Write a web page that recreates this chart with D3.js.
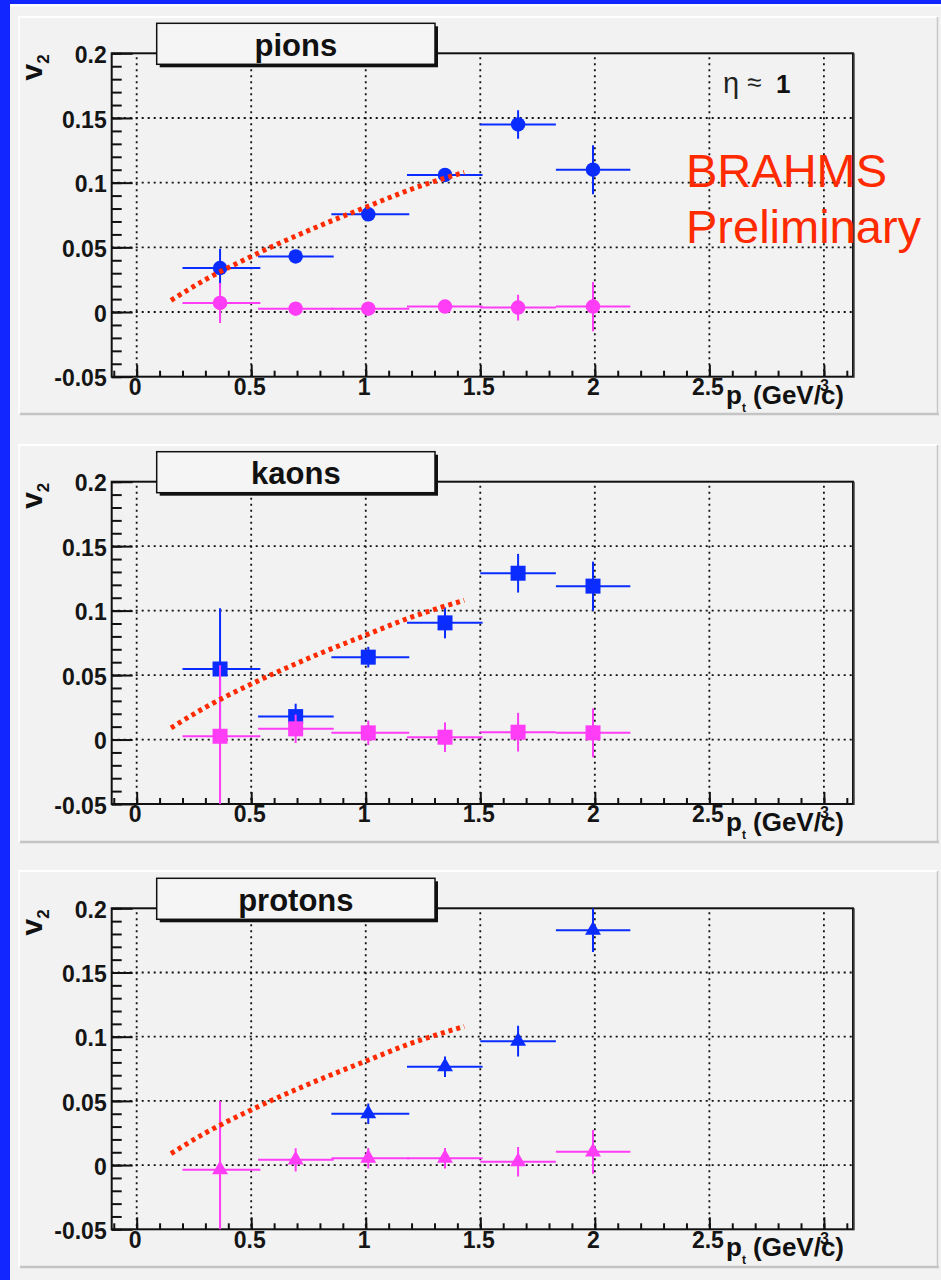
<!DOCTYPE html>
<html>
<head>
<meta charset="utf-8">
<script src="https://cdnjs.cloudflare.com/ajax/libs/d3/7.8.5/d3.min.js"></script>
<style>
  body { margin: 0; background: #1226ff; }
  svg { display: block; }
  text { font-family: "Liberation Sans", Arial, Helvetica, sans-serif; }
</style>
</head>
<body>
<div class="chart"></div>
<script>
// ------------------------------------------------------------------
// Data
var panelNames = ["pions", "kaons", "protons"];
var markerShapes = ["circle", "square", "triangle"];

var binCenter = [0.364, 0.694, 1.011, 1.346, 1.665, 1.992];
var binLo     = [0.20, 0.53, 0.85, 1.18, 1.50, 1.83];
var binHi     = [0.54, 0.86, 1.19, 1.51, 1.83, 2.155];

var pionBlue      = [0.034, 0.043, 0.0755, 0.106, 0.145, 0.110];
var pionBlueErr   = [0.015, 0.003, 0.005, 0.005, 0.011, 0.019];
var pionPink      = [0.007, 0.0026, 0.0026, 0.0042, 0.0034, 0.0042];
var pionPinkErr   = [0.0155, 0.002, 0.002, 0.004, 0.010, 0.019];

var kaonBlue      = [0.0548, 0.0178, 0.0639, 0.0905, 0.129, 0.119];
var kaonBlueErr   = [0.047, 0.010, 0.008, 0.012, 0.015, 0.019];
var kaonPink      = [0.0026, 0.0083, 0.0052, 0.0018, 0.0057, 0.0052];
var kaonPinkErr   = [0.055, 0.011, 0.0095, 0.0115, 0.015, 0.019];

var protonBlue    = [null, null, 0.040, 0.0766, 0.0965, 0.183];
var protonBlueErr = [0, 0, 0.008, 0.008, 0.012, 0.017];
var protonPink    = [-0.0036, 0.0041, 0.0054, 0.0054, 0.0026, 0.0103];
var protonPinkErr = [0.0535, 0.009, 0.008, 0.008, 0.0115, 0.017];

// hydro-like reference curve (same in all panels)
var curveP = [0.15, 0.30, 0.50, 0.75, 1.00, 1.20, 1.43];
var curveV = [0.009, 0.025, 0.043, 0.063, 0.081, 0.095, 0.108];

var yTickValues = [-0.05, 0, 0.05, 0.1, 0.15, 0.2];
var yTickLabels = ["-0.05", "0", "0.05", "0.1", "0.15", "0.2"];
var xTickValues = [0, 0.5, 1, 1.5, 2, 2.5, 3];
var xTickLabels = ["0", "0.5", "1", "1.5", "2", "2.5", "3"];

var blueSeries = [pionBlue, kaonBlue, protonBlue];
var blueErrors = [pionBlueErr, kaonBlueErr, protonBlueErr];
var pinkSeries = [pionPink, kaonPink, protonPink];
var pinkErrors = [pionPinkErr, kaonPinkErr, protonPinkErr];

// ------------------------------------------------------------------
// Layout
var W = 941, H = 1280;
var panelTop    = [17, 445, 871];
var panelBottom = [414, 842, 1267];
var frameTop    = [53.3, 481.7, 908.3];
var frameBottom = [376.7, 804, 1229.3];
var frameLeft = 111.7, frameRight = 853;

var BLUE = "#0a2cff", PINK = "#ff3cf6", RED = "#ff2a00", INK = "#111";

var svg = d3.select(".chart").append("svg")
  .attr("width", W)
  .attr("height", H);

svg.append("rect").attr("width", W).attr("height", H).attr("fill", "#1226ff");
svg.append("rect").attr("x", 10).attr("y", 4).attr("width", W - 10).attr("height", H - 4).attr("fill", "#f2f2f2");
svg.append("line").attr("x1", 10).attr("x2", W).attr("y1", 5.5).attr("y2", 5.5)
  .attr("stroke", "#fff").attr("stroke-width", 2);

var x = d3.scaleLinear().domain([-0.109, 3.127]).range([frameLeft, frameRight]);

var minorX = d3.range(-1, 32).map(function(d) { return d / 10; });
var minorY = d3.range(-5, 21).map(function(d) { return d / 100; });

var curvePts = curveP.map(function(p, i) { return [p, curveV[i]]; });

for (var k = 0; k < 3; k++) {
  drawPanel(k);
}

function drawPanel(k) {
  var ft = frameTop[k], fb = frameBottom[k];
  var y = d3.scaleLinear().domain([-0.05, 0.2]).range([fb, ft]);
  var g = svg.append("g");

  // panel bevel
  g.append("line").attr("x1", 18).attr("x2", 938).attr("y1", panelTop[k]).attr("y2", panelTop[k])
    .attr("stroke", "#fff").attr("stroke-width", 2);
  g.append("line").attr("x1", 19).attr("x2", 19).attr("y1", panelTop[k]).attr("y2", panelBottom[k])
    .attr("stroke", "#fff").attr("stroke-width", 1.5);
  g.append("line").attr("x1", 20).attr("x2", 939).attr("y1", panelBottom[k]).attr("y2", panelBottom[k])
    .attr("stroke", "#c4c4c4").attr("stroke-width", 2.5);
  g.append("line").attr("x1", 937.5).attr("x2", 937.5).attr("y1", panelTop[k]).attr("y2", panelBottom[k])
    .attr("stroke", "#c8c8c8").attr("stroke-width", 1.5);

  // grid
  g.append("g").selectAll("line").data(xTickValues).enter().append("line")
    .attr("x1", function(d) { return x(d); }).attr("x2", function(d) { return x(d); })
    .attr("y1", ft + 4).attr("y2", fb)
    .attr("stroke", INK).attr("stroke-width", 1.8).attr("stroke-dasharray", "2,4");
  g.append("g").selectAll("line").data([0, 0.05, 0.1, 0.15]).enter().append("line")
    .attr("x1", frameLeft).attr("x2", frameRight)
    .attr("y1", function(d) { return y(d); }).attr("y2", function(d) { return y(d); })
    .attr("stroke", INK).attr("stroke-width", 1.8).attr("stroke-dasharray", "2,4");

  // ticks (pointing inward, ROOT style)
  var ym = g.append("g").attr("transform", "translate(" + frameLeft + ",0)")
    .call(d3.axisRight(y).tickValues(minorY).tickSize(10).tickFormat(""));
  var yM = g.append("g").attr("transform", "translate(" + frameLeft + ",0)")
    .call(d3.axisRight(y).tickValues(yTickValues).tickSize(21).tickFormat(""));
  var xm = g.append("g").attr("transform", "translate(0," + fb + ")")
    .call(d3.axisTop(x).tickValues(minorX).tickSize(6).tickFormat(""));
  var xM = g.append("g").attr("transform", "translate(0," + fb + ")")
    .call(d3.axisTop(x).tickValues(xTickValues).tickSize(12).tickFormat(""));
  [ym, yM, xm, xM].forEach(function(a) {
    a.select(".domain").remove();
    a.selectAll(".tick line").attr("stroke", INK).attr("stroke-width", 2);
  });

  // frame
  g.append("rect").attr("x", frameLeft).attr("y", ft)
    .attr("width", frameRight - frameLeft).attr("height", fb - ft)
    .attr("fill", "none").attr("stroke", INK).attr("stroke-width", 2);
  g.append("line").attr("x1", frameRight + 1).attr("x2", frameRight + 1)
    .attr("y1", ft).attr("y2", fb + 1).attr("stroke", "#444").attr("stroke-width", 1.5);

  // tick labels
  var yl = g.append("g").attr("transform", "translate(" + (frameLeft - 4) + ",0)")
    .call(d3.axisLeft(y).tickValues(yTickValues).tickSize(0).tickPadding(1)
      .tickFormat(function(d, i) { return yTickLabels[i]; }));
  yl.select(".domain").remove();
  yl.selectAll("text").attr("font-size", 23).attr("font-weight", "bold").attr("fill", "#151515")
    .attr("font-family", "Liberation Sans, Arial, sans-serif").attr("dy", "0.4em");

  var xl = g.append("g").attr("transform", "translate(-2," + fb + ")")
    .call(d3.axisBottom(x).tickValues(xTickValues).tickSize(0).tickPadding(2)
      .tickFormat(function(d, i) { return xTickLabels[i]; }));
  xl.select(".domain").remove();
  xl.selectAll("text").attr("font-size", 23).attr("font-weight", "bold").attr("fill", "#151515")
    .attr("font-family", "Liberation Sans, Arial, sans-serif");
  // last label squeezed under the axis title, as in the original
  xl.selectAll(".tick").filter(function(d) { return d === 3; }).select("text")
    .attr("font-size", 16).attr("y", 0).attr("dy", "0.9em").attr("transform", "translate(2,0)");

  // data
  var clipId = "clip" + k;
  g.append("clipPath").attr("id", clipId).append("rect")
    .attr("x", frameLeft).attr("y", ft).attr("width", frameRight - frameLeft).attr("height", fb - ft);
  var data = g.append("g").attr("clip-path", "url(#" + clipId + ")");

  drawSeries(data, y, blueSeries[k], blueErrors[k], BLUE, markerShapes[k]);
  drawSeries(data, y, pinkSeries[k], pinkErrors[k], PINK, markerShapes[k]);

  var line = d3.line()
    .x(function(d) { return x(d[0]); })
    .y(function(d) { return y(d[1]); })
    .curve(d3.curveMonotoneX);
  data.append("path").attr("d", line(curvePts))
    .attr("fill", "none").attr("stroke", RED).attr("stroke-width", 5)
    .attr("stroke-dasharray", "4,4");

  // title box with shadow
  var bx = 156.7, bw = 278.3, by = ft - 30, bh = 41;
  g.append("rect").attr("x", bx + 3).attr("y", by + 3).attr("width", bw).attr("height", bh).attr("fill", INK);
  g.append("rect").attr("x", bx).attr("y", by).attr("width", bw).attr("height", bh)
    .attr("fill", "#f5f5f5").attr("stroke", INK).attr("stroke-width", 1.5);
  g.append("text").attr("x", bx + bw / 2).attr("y", ft + 2.5)
    .attr("text-anchor", "middle").attr("font-size", 31).attr("font-weight", "bold").attr("fill", "#111")
    .text(panelNames[k]);

  // y title  v_2
  var yt = g.append("text").attr("transform", "translate(42," + (ft + 1) + ") rotate(-90)")
    .attr("text-anchor", "end").attr("font-weight", "bold").attr("fill", "#111");
  yt.append("tspan").attr("font-size", 30).text("v");
  yt.append("tspan").attr("font-size", 17).attr("dy", 7).text("2");

  // x title  p_t (GeV/c)
  g.append("text").attr("x", 726).attr("y", fb + 27).attr("font-size", 26).attr("font-weight", "bold")
    .attr("fill", "#111").text("p");
  g.append("text").attr("x", 742).attr("y", fb + 35).attr("font-size", 12).attr("font-weight", "bold")
    .attr("fill", "#111").text("t");
  g.append("text").attr("x", 753).attr("y", fb + 27).attr("font-size", 26).attr("font-weight", "bold")
    .attr("fill", "#111").text("(GeV/c)");

  if (k === 0) {
    g.append("text").attr("x", 723).attr("y", ft + 40).attr("font-size", 29).attr("fill", "#222").text("η");
    g.append("text").attr("x", 747).attr("y", ft + 38).attr("font-size", 26).attr("fill", "#222").text("≈");
    g.append("text").attr("x", 776).attr("y", ft + 40).attr("font-size", 26).attr("font-weight", "bold")
      .attr("fill", "#111").text("1");
    g.append("text").attr("x", 686).attr("y", ft + 133.5).attr("font-size", 47).attr("fill", RED).text("BRAHMS");
    g.append("text").attr("x", 686).attr("y", ft + 190).attr("font-size", 47).attr("fill", RED).text("Preliminary");
  }
}

function drawSeries(g, y, vals, errs, color, shape) {
  var pts = [];
  for (var i = 0; i < vals.length; i++) {
    if (vals[i] === null) continue;
    pts.push({ p: binCenter[i], lo: binLo[i], hi: binHi[i], v: vals[i], e: errs[i] });
  }
  var s = g.append("g");
  s.selectAll(".hbar").data(pts).enter().append("line")
    .attr("x1", function(d) { return x(d.lo); }).attr("x2", function(d) { return x(d.hi); })
    .attr("y1", function(d) { return y(d.v); }).attr("y2", function(d) { return y(d.v); })
    .attr("stroke", color).attr("stroke-width", 2);
  s.selectAll(".vbar").data(pts).enter().append("line")
    .attr("x1", function(d) { return x(d.p); }).attr("x2", function(d) { return x(d.p); })
    .attr("y1", function(d) { return y(d.v + d.e); }).attr("y2", function(d) { return y(d.v - d.e); })
    .attr("stroke", color).attr("stroke-width", 2);
  var sym = d3.symbol()
    .type(shape === "circle" ? d3.symbolCircle : shape === "square" ? d3.symbolSquare : d3.symbolTriangle)
    .size(shape === "circle" ? 165 : shape === "square" ? 225 : 110);
  s.selectAll(".mk").data(pts).enter().append("path")
    .attr("d", sym)
    .attr("transform", function(d) { return "translate(" + x(d.p) + "," + y(d.v) + ")"; })
    .attr("fill", color);
}
</script>
</body>
</html>
